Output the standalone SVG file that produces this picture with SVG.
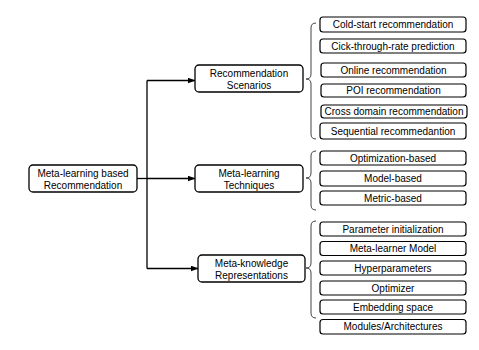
<svg xmlns="http://www.w3.org/2000/svg" width="479" height="350" viewBox="0 0 479 350">
  <style>
    .node rect { fill: #ffffff; stroke: #000000; stroke-width: 1.3; }
    .leaf rect { fill: #ffffff; stroke: #000000; stroke-width: 1.2; }
    text { font-family: "Liberation Sans", Arial, sans-serif; font-size: 10px; fill: #000000; text-anchor: middle; }
    .brace { fill: none; stroke: #444444; stroke-width: 1; }
    .conn { fill: none; stroke: #000000; stroke-width: 1.3; }
  </style>
  <defs>
    <marker id="arrow" markerUnits="userSpaceOnUse" markerWidth="8" markerHeight="6" refX="7.5" refY="3" orient="auto">
      <path d="M0,0 L8,3 L0,6 z" fill="#000000"/>
    </marker>
  </defs>
  <rect width="479" height="350" fill="#ffffff"/>

  <!-- connectors from the root to the three categories -->
  <g id="connectors">
    <path class="conn" d="M137 178.5 H147"/>
    <path class="conn" d="M147 80.5 V268.5"/>
    <path class="conn" d="M147 80.5 H195" marker-end="url(#arrow)"/>
    <path class="conn" d="M147 178.5 H195" marker-end="url(#arrow)"/>
    <path class="conn" d="M147 268.5 H198" marker-end="url(#arrow)"/>
    <!-- braces grouping the leaf items -->
    <path class="brace" d="M316 23 Q311 23 311 28 L311 74 Q311 79 306 79 Q311 79 311 84 L311 134 Q311 139 316 139"/>
    <path class="brace" d="M316 151 Q311 151 311 156 L311 173 Q311 178 306 178 Q311 178 311 183 L311 205 Q311 210 316 210"/>
    <path class="brace" d="M316 221 Q311 221 311 226 L311 263 Q311 268 306 268 Q311 268 311 273 L311 313 Q311 318 316 318"/>
  </g>

  <!-- root -->
  <g id="root" class="node">
    <rect x="29" y="165" width="108" height="27" rx="4"/>
    <text x="83" y="176.5">Meta-learning based</text>
    <text x="83" y="188.5">Recommendation</text>
  </g>

  <!-- categories -->
  <g id="scenarios" class="node">
    <rect x="195" y="65" width="108" height="27" rx="4"/>
    <text x="249" y="76.5">Recommendation</text>
    <text x="249" y="88.5">Scenarios</text>
  </g>
  <g id="techniques" class="node">
    <rect x="195" y="165" width="108" height="27" rx="4"/>
    <text x="249" y="176.5">Meta-learning</text>
    <text x="249" y="188.5">Techniques</text>
  </g>
  <g id="representations" class="node">
    <rect x="198" y="255" width="107" height="27" rx="4"/>
    <text x="251.5" y="266.5">Meta-knowledge</text>
    <text x="251.5" y="278.5">Representations</text>
  </g>

  <!-- recommendation scenarios -->
  <g id="cold-start" class="leaf">
    <rect x="320" y="17" width="146" height="15" rx="3"/>
    <text x="393" y="28">Cold-start recommendation</text>
  </g>
  <g id="ctr" class="leaf">
    <rect x="320" y="39" width="146" height="14" rx="3"/>
    <text x="393" y="49.5">Cick-through-rate prediction</text>
  </g>
  <g id="online" class="leaf">
    <rect x="321" y="63" width="145" height="14" rx="3"/>
    <text x="393.5" y="73.5">Online recommendation</text>
  </g>
  <g id="poi" class="leaf">
    <rect x="321" y="84" width="145" height="13" rx="3"/>
    <text x="393.5" y="94">POI recommendation</text>
  </g>
  <g id="cross-domain" class="leaf">
    <rect x="321" y="105" width="146" height="13" rx="3"/>
    <text x="394" y="115">Cross domain recommendation</text>
  </g>
  <g id="sequential" class="leaf">
    <rect x="320" y="123" width="146" height="16" rx="3"/>
    <text x="393" y="134.5">Sequential recommedantion</text>
  </g>

  <!-- meta-learning techniques -->
  <g id="optimization" class="leaf">
    <rect x="320" y="151" width="146" height="14" rx="3"/>
    <text x="393" y="161.5">Optimization-based</text>
  </g>
  <g id="model" class="leaf">
    <rect x="320" y="171" width="146" height="15" rx="3"/>
    <text x="393" y="182">Model-based</text>
  </g>
  <g id="metric" class="leaf">
    <rect x="320" y="191" width="146" height="14" rx="3"/>
    <text x="393" y="201.5">Metric-based</text>
  </g>

  <!-- meta-knowledge representations -->
  <g id="param-init" class="leaf">
    <rect x="320" y="222" width="146" height="14" rx="3"/>
    <text x="393" y="232.5">Parameter initialization</text>
  </g>
  <g id="meta-learner" class="leaf">
    <rect x="320" y="241.5" width="146" height="14" rx="3"/>
    <text x="393" y="252">Meta-learner Model</text>
  </g>
  <g id="hyperparameters" class="leaf">
    <rect x="320" y="261" width="146" height="14" rx="3"/>
    <text x="393" y="271.5">Hyperparameters</text>
  </g>
  <g id="optimizer" class="leaf">
    <rect x="320" y="281" width="146" height="14" rx="3"/>
    <text x="393" y="291.5">Optimizer</text>
  </g>
  <g id="embedding" class="leaf">
    <rect x="320" y="300" width="146" height="14" rx="3"/>
    <text x="393" y="310.5">Embedding space</text>
  </g>
  <g id="modules" class="leaf">
    <rect x="320" y="319.5" width="146" height="14.5" rx="3"/>
    <text x="393" y="330">Modules/Architectures</text>
  </g>
</svg>
